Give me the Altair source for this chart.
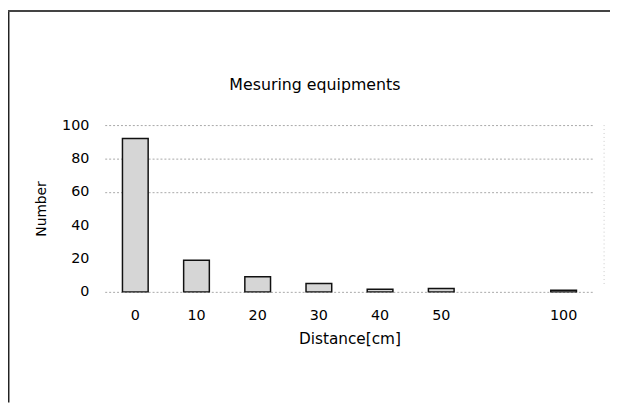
import altair as alt
import pandas as pd

# data
distances = ["0", "10", "20", "30", "40", "50", "100"]
counts = [92, 19, 9, 5, 1.5, 2, 1]
# axis category slots (one empty slot between 50 and 100)
x_domain = ["0", "10", "20", "30", "40", "50", "", "100"]
y_ticks = [0, 20, 40, 60, 80, 100]
grid_values = [0, 60, 80, 100]
chart_title = "Mesuring equipments"

df = pd.DataFrame({"Distance": distances, "Number": counts})

FONT = "DejaVu Sans"
W, H = 496, 169
PAD_L, PAD_T, PAD_R, PAD_B = 98, 116, 16, 112

y_scale = alt.Scale(domain=[0, 100], nice=False, zero=True)
grid_test = " || ".join(f"datum.value == {v}" for v in grid_values)

bars = alt.Chart(df).mark_bar(
    fill="#d6d6d6", stroke="#111111", strokeWidth=1.5
).encode(
    x=alt.X("Distance:N", sort=x_domain,
            scale=alt.Scale(domain=x_domain, paddingInner=0.58, paddingOuter=0.29),
            axis=alt.Axis(title="Distance[cm]", labelAngle=0, ticks=False, domain=False,
                          labelPadding=17, labelFontSize=14.5, labelFont=FONT, labelColor="#000",
                          labelOverlap=False,
                          titleFontSize=15.5, titleFont=FONT, titleFontWeight="normal", titleColor="#000",
                          titleX=W / 2, titleY=47, titleBaseline="middle", titleAnchor="middle")),
    y=alt.Y("Number:Q", scale=y_scale,
            axis=alt.Axis(title="Number", values=y_ticks, ticks=False, domain=False,
                          grid=True, gridColor="#a8a8a8", gridDash=[2, 2], gridWidth=1,
                          gridOpacity={"condition": {"test": grid_test, "value": 1}, "value": 0},
                          labelOverlap=False, labelFlush=False,
                          labelPadding=16, labelFontSize=14.5, labelFont=FONT, labelColor="#000",
                          titleFontSize=14, titleFont=FONT, titleFontWeight="normal", titleColor="#000",
                          titleX=-64, titleY=H / 2, titleBaseline="middle", titleAnchor="middle")),
)

one = alt.Data(values=[{"a": 1}])
title_text = alt.Chart(alt.Data(values=[{"t": chart_title}])).mark_text(
    font=FONT, fontSize=16, color="#000", align="center", baseline="middle"
).encode(x=alt.value(213), y=alt.value(-41), text="t:N")

left_border = alt.Chart(one).mark_rule(color="#222222", strokeWidth=2).encode(
    x=alt.value(-PAD_L + 0.5), y=alt.value(-PAD_T), y2=alt.value(H + PAD_B)
)
top_border = alt.Chart(one).mark_rule(color="#444444", strokeWidth=2).encode(
    x=alt.value(-PAD_L), x2=alt.value(W + PAD_R), y=alt.value(-PAD_T + 0.5)
)
right_line = alt.Chart(one).mark_rule(color="#c8c8c8", strokeWidth=1, strokeDash=[1, 3]).encode(
    x=alt.value(W + 10), y=alt.value(0), y2=alt.value(H - 8)
)

chart = alt.layer(bars, title_text, left_border, top_border, right_line).properties(
    width=W, height=H,
    autosize=alt.AutoSizeParams(type="none"),
    padding={"left": PAD_L, "top": PAD_T, "right": PAD_R, "bottom": PAD_B},
    background="white",
).configure_view(stroke=None)

chart.save("out.html", embed_options={"renderer": "svg", "actions": False})
